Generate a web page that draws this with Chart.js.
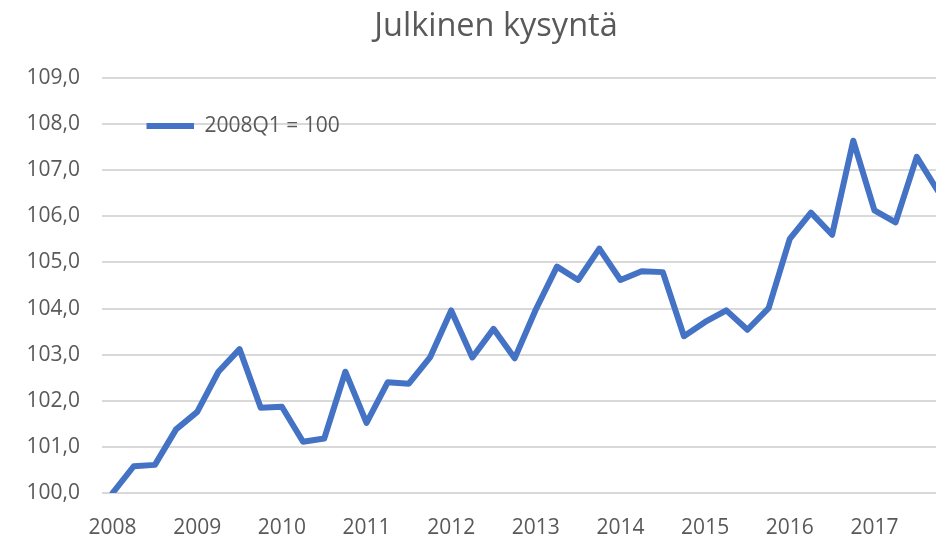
<!DOCTYPE html>
<html>
<head>
<meta charset="utf-8">
<script src="https://cdn.jsdelivr.net/npm/chart.js@4/dist/chart.umd.min.js"></script>
<style>
  html, body { margin: 0; padding: 0; overflow: hidden; background: #ffffff; }
  canvas { display: block; }
</style>
</head>
<body>
<canvas id="c" width="992" height="537"></canvas>
<script>
const chartTitle = 'Julkinen kysyntä';
const seriesName = '2008Q1 = 100';

const categories = [
  '2008Q1','2008Q2','2008Q3','2008Q4',
  '2009Q1','2009Q2','2009Q3','2009Q4',
  '2010Q1','2010Q2','2010Q3','2010Q4',
  '2011Q1','2011Q2','2011Q3','2011Q4',
  '2012Q1','2012Q2','2012Q3','2012Q4',
  '2013Q1','2013Q2','2013Q3','2013Q4',
  '2014Q1','2014Q2','2014Q3','2014Q4',
  '2015Q1','2015Q2','2015Q3','2015Q4',
  '2016Q1','2016Q2','2016Q3','2016Q4',
  '2017Q1','2017Q2','2017Q3','2017Q4'
];

const xTickLabels = ['2008','2009','2010','2011','2012','2013','2014','2015','2016','2017'];

const values = [
  100.00, 100.58, 100.61, 101.38,
  101.76, 102.63, 103.12, 101.85,
  101.87, 101.11, 101.18, 102.63,
  101.52, 102.40, 102.37, 102.94,
  103.96, 102.94, 103.56, 102.92,
  103.98, 104.91, 104.62, 105.30,
  104.62, 104.81, 104.79, 103.40,
  103.71, 103.96, 103.54, 104.01,
  105.51, 106.08, 105.60, 107.64,
  106.13, 105.87, 107.29, 106.55
];

const yTickValues = [100, 101, 102, 103, 104, 105, 106, 107, 108, 109];
const yTickLabels = ['100,0','101,0','102,0','103,0','104,0','105,0','106,0','107,0','108,0','109,0'];

const textColor = '#595959';
const lineColor = '#4472C4';
const gridColor = '#d9d9d9';

Chart.defaults.font.family = '"Open Sans", "Noto Sans", sans-serif';
Chart.defaults.color = textColor;

// Place the legend inside the plot area and centre the title on the full canvas width
const layoutTweaks = {
  id: 'layoutTweaks',
  afterLayout(chart) {
    const ca = chart.chartArea;
    if (chart.legend) {
      chart.legend.left = ca.left + 7;
      chart.legend.right = ca.right;
      chart.legend.top = ca.top;
      chart.legend.bottom = ca.bottom;
    }
    if (chart.titleBlock) {
      chart.titleBlock.left = 0;
      chart.titleBlock.right = chart.width;
    }
  }
};

new Chart(document.getElementById('c'), {
  type: 'line',
  data: {
    labels: categories,
    datasets: [{
      label: seriesName,
      data: values,
      borderColor: lineColor,
      backgroundColor: lineColor,
      borderWidth: 6,
      borderJoinStyle: 'round',
      borderCapStyle: 'round',
      pointRadius: 0,
      pointHoverRadius: 0,
      pointStyle: 'line',
      tension: 0,
      fill: false
    }]
  },
  options: {
    responsive: false,
    animation: false,
    devicePixelRatio: 1,
    layout: { padding: { left: 0, right: 43.5, top: 0, bottom: 0 } },
    plugins: {
      title: {
        display: true,
        text: chartTitle,
        color: textColor,
        font: { size: 32.5, weight: 'normal' },
        padding: { top: 7, bottom: 32 }
      },
      legend: {
        display: true,
        position: 'chartArea',
        align: 'start',
        labels: {
          color: textColor,
          font: { size: 21 },
          usePointStyle: true,
          pointStyle: 'line',
          pointStyleWidth: 47.5,
          boxHeight: 21,
          padding: 37.5
        }
      },
      tooltip: { enabled: false }
    },
    scales: {
      x: {
        type: 'category',
        offset: true,
        grid: { display: false, drawTicks: false },
        border: { display: false },
        ticks: {
          autoSkip: false,
          maxRotation: 0,
          minRotation: 0,
          padding: 22,
          color: textColor,
          font: { size: 21 },
          callback: function (value, index) {
            return index % 4 === 0 ? xTickLabels[index / 4] : '';
          }
        },
        afterFit: function (scale) { scale.height = 44; }
      },
      y: {
        min: 100,
        max: 109,
        grid: { color: gridColor, lineWidth: 2, drawTicks: false },
        border: { display: false },
        ticks: {
          stepSize: 1,
          padding: 22,
          color: textColor,
          font: { size: 21 },
          callback: function (value) {
            const i = yTickValues.indexOf(value);
            return i >= 0 ? yTickLabels[i] : '';
          }
        },
        afterFit: function (scale) { scale.width = 102; }
      }
    }
  },
  plugins: [layoutTweaks]
});
</script>
</body>
</html>
